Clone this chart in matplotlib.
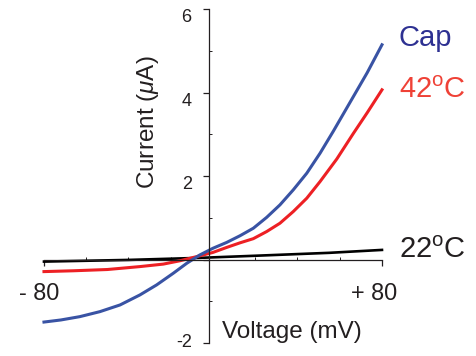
import matplotlib.pyplot as plt

plt.rcParams['font.family'] = ['Liberation Sans', 'DejaVu Sans']
plt.rcParams['mathtext.fontset'] = 'custom'
plt.rcParams['mathtext.rm'] = 'Liberation Sans'
plt.rcParams['mathtext.it'] = 'Liberation Sans:italic'

# voltage (mV) / current (uA)
v_cap = [-80, -72, -63, -53.5, -44, -34.6, -26.7, -18.8, -12.4, -6.2, 0, 6.5, 12.8,
         19.1, 25.4, 31.7, 38, 44.4, 50.7, 57, 65, 73, 80]
i_cap = [-1.5, -1.45, -1.37, -1.25, -1.09, -0.85, -0.61, -0.33, -0.09, 0.11, 0.27, 0.41, 0.57,
         0.75, 1.01, 1.31, 1.67, 2.07, 2.55, 3.08, 3.78, 4.48, 5.15]

v_42 = [-80, -66, -50, -34.6, -23.5, -15.6, -7.7, 0, 6.5, 12.8, 19.1, 25.4, 31.7,
        38, 44.4, 50.7, 58.6, 66.4, 73, 80]
i_42 = [-0.29, -0.27, -0.24, -0.17, -0.11, -0.03, 0.07, 0.17, 0.29, 0.40, 0.50, 0.67, 0.87,
        1.15, 1.47, 1.87, 2.41, 3.02, 3.52, 4.07]

v_22 = [-80, -40, -6, 20, 55, 80]
i_22 = [-0.05, -0.01, 0.04, 0.09, 0.16, 0.23]

fig = plt.figure(figsize=(4.77, 3.56), dpi=100)
ax = fig.add_axes([0.0922, 0.0368, 0.7086, 0.937])
ax.set_xlim(-80, 80)
ax.set_ylim(-2, 6)

ax.plot(v_22, i_22, color='black', lw=1.9, clip_on=False)
ax.plot(v_42, i_42, color='#ed2024', lw=2.2, clip_on=False)
ax.plot(v_cap, i_cap, color='#3953a4', lw=2.2, clip_on=False)

for s in ['top', 'right']:
    ax.spines[s].set_visible(False)
ax.spines['left'].set_position(('data', -2))
ax.spines['bottom'].set_position(('data', 0))
ax.spines['left'].set_bounds(-2, 6)
ax.spines['bottom'].set_bounds(-80, 80)
for s in ['left', 'bottom']:
    ax.spines[s].set_linewidth(0.9)
    ax.spines[s].set_color('#231f20')

ax.set_yticks([-2, 0, 2, 4, 6], ['-2', '', '2', '4', '6'])
ax.set_yticks([-1, 1, 3, 5], minor=True)
ax.set_xticks([-80, 80], ['', ''])
ax.set_xticks([-60, -40, -20, 20, 40, 60], minor=True)
ax.tick_params(axis='y', which='major', direction='out', length=4.3, width=0.9,
               pad=8, labelsize=13, colors='#231f20')
ax.tick_params(axis='y', which='minor', direction='in', length=2, width=0.7, colors='#231f20')
ax.tick_params(axis='x', which='major', direction='out', length=4, width=0.9, colors='#231f20')
ax.tick_params(axis='x', which='minor', direction='in', length=2, width=0.7, colors='#231f20')
for lab in ax.get_yticklabels():
    lab.set_va('center' if lab.get_text() == '-2' else 'top')

# x tick labels, the "80" sits on the tick with the sign hanging left
for v, t in [(-80, '- 80'), (80, '+ 80')]:
    ax.text(v + 7.2, -0.97, t, ha='right', va='baseline', fontsize=16.8, color='#231f20')

ax.text(4.3, -1.88, 'Voltage (mV)', ha='left', va='baseline', fontsize=17.5, color='#231f20')
ax.text(-30.8, 3.3, r'Current ($\mu$A)', rotation=90, ha='center', va='center',
        fontsize=17.5, color='#231f20')

ax.text(88, 5.12, 'Cap', ha='left', va='baseline', fontsize=21, color='#2e3192')
ax.text(88, 3.87, r'42$^\mathrm{o}$C', ha='left', va='baseline', fontsize=21, color='#ef4136')
ax.text(88, 0.04, r'22$^\mathrm{o}$C', ha='left', va='baseline', fontsize=21, color='#231f20')

fig.savefig('out.png', dpi=100)
